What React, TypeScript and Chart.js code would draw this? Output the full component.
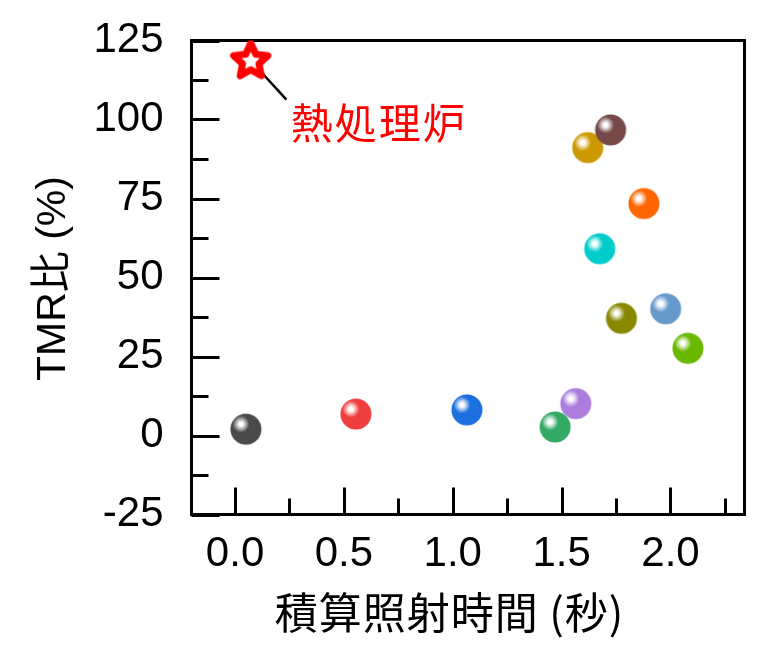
import React, { useEffect, useRef } from 'react';
import { Chart, registerables } from 'chart.js';

Chart.register(...registerables);

// sphere samples (drawn in this order, later ones on top)
const sphereColors = ['#4a4a4a', '#ef3e3e', '#1c6fdf', '#ad7ddd', '#33aa66', '#00cccc', '#cc9900', '#774848', '#888800', '#ff6600', '#6699cc', '#6ab800'];
const sphereX = [0.05, 0.555, 1.065, 1.565, 1.47, 1.675, 1.62, 1.725, 1.775, 1.878, 1.978, 2.08];
const sphereY = [2.0, 6.8, 8.1, 10.1, 2.7, 59.1, 91.1, 96.7, 37.1, 73.4, 40.1, 27.6];

// furnace reference point
const furnaceX = [0.072];
const furnaceY = [119];
const leaderX = [0.123, 0.236];
const leaderY = [114.8, 106.3];
const furnaceLabel = '熱処理炉';
const furnaceLabelX = 0.256;
const furnaceLabelY = 98.9;

// axes
const xTicks = [0, 0.5, 1.0, 1.5, 2.0];
const xMinorTicks = [0.25, 0.75, 1.25, 1.75, 2.25];
const yTicks = [-25, 0, 25, 50, 75, 100, 125];
const yMinorTicks = [-12.5, 12.5, 37.5, 62.5, 87.5, 112.5];
const xTitle = '積算照射時間 (秒)';
const yTitle = 'TMR比 (%)';

const FONT = "'Liberation Sans', 'Noto Sans CJK JP', sans-serif";

function lighten(hex: string, amt: number) {
  const n = parseInt(hex.slice(1), 16);
  const r = (n >> 16) & 255, g = (n >> 8) & 255, b = n & 255;
  const f = (c: number) => Math.round(c + (255 - c) * amt);
  return `rgb(${f(r)},${f(g)},${f(b)})`;
}

function makeSphere(color: string) {
  const size = 34;
  const r = 15.5;
  const c = document.createElement('canvas');
  c.width = size;
  c.height = size;
  const ctx = c.getContext('2d')!;
  const cx = size / 2, cy = size / 2;
  const g = ctx.createRadialGradient(cx - 5, cy - 5, 0, cx - 5, cy - 5, r * 1.6);
  g.addColorStop(0, '#ffffff');
  g.addColorStop(0.08, '#ffffff');
  g.addColorStop(0.2, lighten(color, 0.55));
  g.addColorStop(0.34, color);
  g.addColorStop(1, color);
  ctx.fillStyle = g;
  ctx.beginPath();
  ctx.arc(cx, cy, r, 0, Math.PI * 2);
  ctx.fill();
  return c;
}

function makeStar() {
  const size = 56;
  const c = document.createElement('canvas');
  c.width = size;
  c.height = size;
  const ctx = c.getContext('2d')!;
  const cx = size / 2, cy = size / 2 + 1.7;
  const R = 18, r = 8.6;
  ctx.beginPath();
  for (let i = 0; i < 10; i++) {
    const rad = i % 2 === 0 ? R : r;
    const a = -Math.PI / 2 + (i * Math.PI) / 5;
    const px = cx + rad * Math.cos(a), py = cy + rad * Math.sin(a);
    if (i === 0) ctx.moveTo(px, py); else ctx.lineTo(px, py);
  }
  ctx.closePath();
  ctx.fillStyle = '#ffffff';
  ctx.fill();
  ctx.lineJoin = 'round';
  ctx.lineWidth = 7;
  ctx.strokeStyle = '#ff0000';
  ctx.stroke();
  return c;
}

const framePlugin = {
  id: 'frame',
  beforeDatasetsDraw(chart: any) {
    const { ctx, chartArea: a, scales } = chart;
    const xs = scales.x, ys = scales.y;
    ctx.save();
    ctx.strokeStyle = '#000';
    ctx.lineWidth = 3;
    ctx.beginPath();
    xTicks.forEach((v) => { const px = Math.round(xs.getPixelForValue(v)) + 0.5; ctx.moveTo(px, a.bottom); ctx.lineTo(px, a.bottom - 27); });
    xMinorTicks.forEach((v) => { const px = Math.round(xs.getPixelForValue(v)) + 0.5; ctx.moveTo(px, a.bottom); ctx.lineTo(px, a.bottom - 16); });
    yTicks.forEach((v) => { const py = Math.round(ys.getPixelForValue(v)) + 0.5; ctx.moveTo(a.left, py); ctx.lineTo(a.left + 28, py); });
    yMinorTicks.forEach((v) => { const py = Math.round(ys.getPixelForValue(v)) + 0.5; ctx.moveTo(a.left, py); ctx.lineTo(a.left + 17, py); });
    ctx.stroke();
    ctx.strokeRect(a.left, a.top, a.right - a.left, a.bottom - a.top);
    ctx.restore();
  },
  afterDatasetsDraw(chart: any) {
    const { ctx, scales } = chart;
    ctx.save();
    ctx.fillStyle = '#ff0000';
    ctx.font = `42px 'Noto Sans CJK JP', sans-serif`;
    (ctx as any).letterSpacing = '2px';
    ctx.textAlign = 'left';
    ctx.textBaseline = 'middle';
    ctx.fillText(furnaceLabel, scales.x.getPixelForValue(furnaceLabelX), scales.y.getPixelForValue(furnaceLabelY));
    ctx.restore();
  },
  afterDraw(chart: any) {
    const { ctx, chartArea: a } = chart;
    ctx.save();
    ctx.fillStyle = '#000';
    ctx.textBaseline = 'middle';
    ctx.textAlign = 'center';
    ctx.font = `43px 'Noto Sans CJK JP', sans-serif`;
    (ctx as any).letterSpacing = '1px';
    ctx.fillText(xTitle, a.left + 258, a.bottom + 98);
    (ctx as any).letterSpacing = '0px';
    ctx.translate(a.left - 138, (a.top + a.bottom) / 2 + 1);
    ctx.rotate(-Math.PI / 2);
    ctx.font = `41px ${FONT}`;
    ctx.fillText(yTitle, 0, 0);
    ctx.restore();
  },
};

const App: React.FC = () => {
  const canvasRef = useRef<HTMLCanvasElement>(null);
  const chartRef = useRef<Chart | null>(null);

  useEffect(() => {
    if (!canvasRef.current) return;
    if (chartRef.current) chartRef.current.destroy();

    const spheres = sphereColors.map(makeSphere);
    const star = makeStar();

    chartRef.current = new Chart(canvasRef.current, {
      type: 'scatter',
      data: {
        datasets: [
          {
            label: 'furnace',
            data: furnaceX.map((x, i) => ({ x, y: furnaceY[i] })),
            pointStyle: star as any,
            pointRadius: 20,
          },
          {
            label: 'leader',
            data: leaderX.map((x, i) => ({ x, y: leaderY[i] })),
            showLine: true,
            borderColor: '#000',
            borderWidth: 2.5,
            pointRadius: 0,
          },
          {
            label: 'samples',
            data: sphereX.map((x, i) => ({ x, y: sphereY[i] })),
            pointStyle: spheres as any,
            pointRadius: 16,
          },
        ],
      },
      options: {
        responsive: false,
        animation: false,
        events: [],
        layout: { padding: { top: 40.5, right: 23.5, left: 0, bottom: 0 } },
        plugins: { legend: { display: false }, tooltip: { enabled: false } },
        scales: {
          x: {
            type: 'linear',
            min: -0.2,
            max: 2.34,
            grid: { display: false, drawTicks: false },
            border: { display: false },
            afterBuildTicks: (s: any) => { s.ticks = xTicks.map((value) => ({ value })); },
            afterFit: (s: any) => { s.height = 653 - 514.5; s.paddingLeft = 0; s.paddingRight = 0; },
            ticks: {
              padding: 15,
              color: '#000',
              font: { family: FONT, size: 42 },
              maxRotation: 0,
              callback: (v: any) => Number(v).toFixed(1),
            },
          },
          y: {
            type: 'linear',
            min: -25,
            max: 125,
            grid: { display: false, drawTicks: false },
            border: { display: false },
            afterBuildTicks: (s: any) => { s.ticks = yTicks.map((value) => ({ value })); },
            afterFit: (s: any) => { s.width = 191.5; s.paddingTop = 0; s.paddingBottom = 0; },
            ticks: {
              padding: 28,
              color: '#000',
              font: { family: FONT, size: 42 },
              callback: (v: any) => String(v),
            },
          },
        },
      },
      plugins: [framePlugin],
    });

    return () => {
      if (chartRef.current) {
        chartRef.current.destroy();
        chartRef.current = null;
      }
    };
  }, []);

  return (
    <div style={{ position: 'absolute', left: 0, top: 0, width: 768, height: 653, background: '#fff' }}>
      <canvas ref={canvasRef} width={768} height={653} />
    </div>
  );
};

export default App;
